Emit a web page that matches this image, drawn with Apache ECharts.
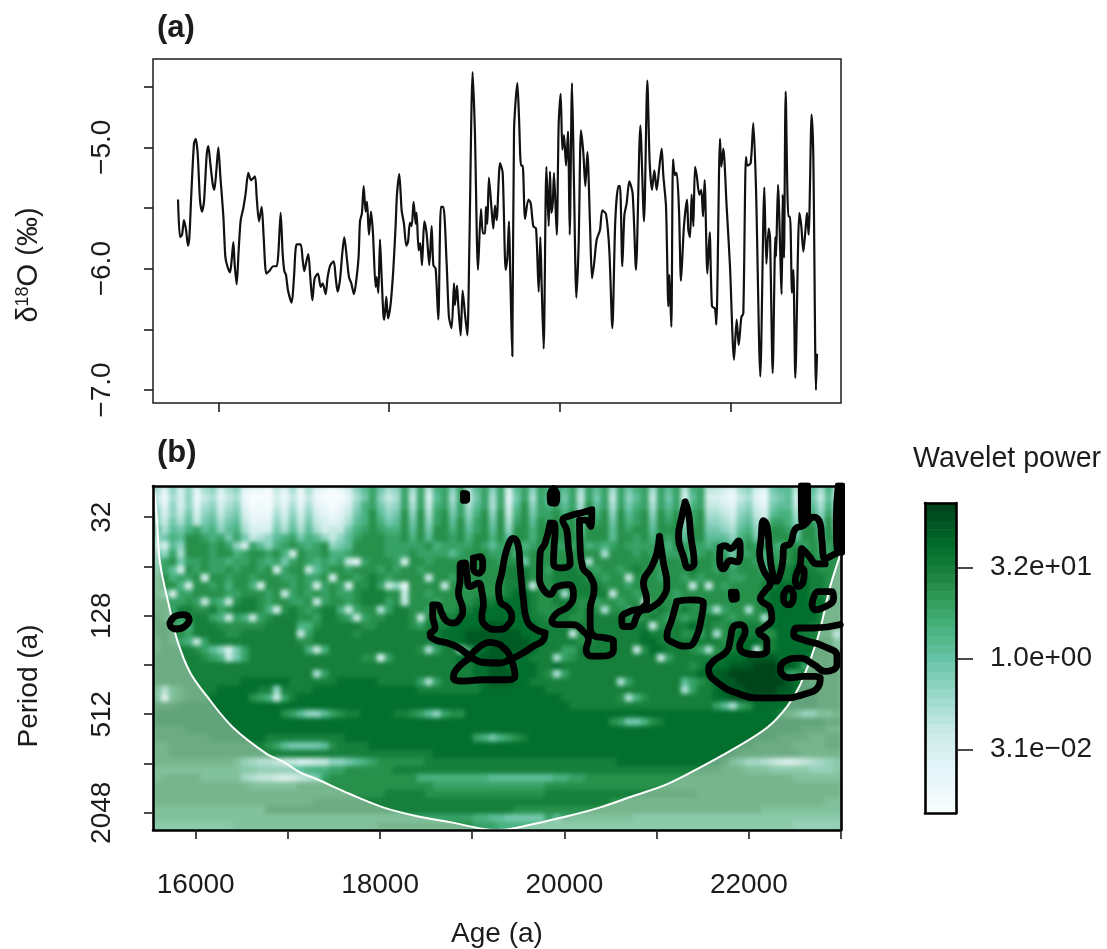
<!DOCTYPE html>
<html><head><meta charset="utf-8">
<style>html,body{margin:0;padding:0;background:#fff}#c{width:1107px;height:949px}
canvas[data-zr-dom-id="zr_1"]{filter:blur(2px);clip-path:inset(486px 266px 119px 153px);background:#4fb085 !important}</style>
<script src="https://cdn.jsdelivr.net/npm/echarts@6/dist/echarts.min.js"></script>
</head><body><div id="c"></div>
<script>
// ---------- panel (a): d18O record ----------
const ageRecord=[15528,15551,15575,15598,15622,15645,15661,15684,15715,15735,15758,15785,15809,15832,15864,15883,15906,15934,15953,15977,16000,16024,16059,16082,16106,16137,16156,16176,16191,16215,16238,16262,16293,16320,16351,16383,16429,16449,16476,16508,16531,16562,16597,16644,16683,16703,16730,16753,16773,16792,16816,16859,16886,16917,16964,16988,17007,17034,17054,17077,17101,17128,17167,17198,17222,17257,17280,17312,17351,17374,17397,17425,17452,17475,17503,17530,17557,17589,17620,17643,17659,17682,17702,17725,17741,17764,17788,17811,17842,17854,17874,17893,17909,17932,17944,17967,17987,18018,18049,18076,18092,18119,18147,18174,18201,18221,18244,18264,18287,18311,18322,18346,18365,18385,18412,18439,18471,18498,18518,18545,18576,18607,18635,18674,18701,18732,18760,18771,18795,18810,18838,18861,18888,18916,18939,18978,19005,19041,19076,19099,19123,19134,19150,19169,19201,19220,19240,19259,19299,19330,19365,19385,19404,19416,19432,19443,19463,19502,19521,19545,19564,19592,19631,19658,19689,19721,19752,19771,19787,19810,19842,19869,19884,19900,19916,19931,19963,19986,20009,20029,20048,20072,20095,20115,20142,20165,20193,20220,20247,20275,20298,20322,20353,20376,20400,20431,20470,20497,20540,20579,20614,20649,20685,20704,20731,20755,20782,20813,20852,20891,20942,20985,21024,21051,21079,21106,21133,21165,21192,21211,21243,21270,21282,21305,21325,21348,21368,21395,21418,21453,21489,21504,21524,21543,21563,21582,21602,21633,21656,21676,21695,21727,21754,21781,21816,21832,21875,21891,21914,21953,21992,22039,22070,22094,22125,22148,22179,22195,22234,22265,22297,22347,22394,22418,22445,22461,22492,22523,22531,22554,22597,22609,22624,22644,22675,22695,22718,22734,22757,22804,22827,22851,22882,22894,22913,22948,22968,22999,23011];
const d18O=[-5.43,-5.74,-5.72,-5.60,-5.68,-5.81,-5.74,-5.38,-4.97,-4.93,-5.05,-5.43,-5.53,-5.45,-5.06,-4.99,-5.13,-5.30,-5.35,-5.19,-5.00,-5.24,-5.57,-5.90,-5.98,-6.03,-5.93,-5.78,-5.96,-6.13,-5.85,-5.60,-5.50,-5.38,-5.21,-5.27,-5.24,-5.41,-5.61,-5.49,-5.74,-6.04,-6.02,-5.98,-5.98,-5.87,-5.54,-5.87,-6.02,-6.05,-6.18,-6.28,-6.07,-5.80,-5.80,-5.93,-6.02,-5.93,-5.88,-6.07,-6.26,-6.08,-6.04,-6.15,-6.12,-6.21,-6.07,-5.97,-5.94,-6.07,-6.19,-6.09,-5.87,-5.74,-5.90,-6.07,-6.12,-6.21,-6.07,-5.90,-5.61,-5.54,-5.32,-5.53,-5.45,-5.72,-5.53,-5.71,-6.15,-6.07,-6.20,-5.76,-6.01,-6.37,-6.42,-6.23,-6.41,-6.29,-6.01,-5.65,-5.39,-5.22,-5.52,-5.63,-5.81,-5.78,-5.62,-5.65,-5.45,-5.63,-5.54,-5.85,-5.79,-5.97,-5.61,-5.71,-5.97,-5.65,-5.97,-6.00,-6.42,-5.49,-5.49,-5.96,-6.40,-6.49,-6.12,-6.30,-6.14,-6.30,-6.55,-6.18,-6.37,-6.55,-5.85,-4.38,-4.88,-6.01,-5.51,-5.71,-5.71,-5.49,-5.63,-5.25,-5.52,-5.67,-5.48,-5.60,-5.13,-5.21,-6.01,-5.91,-5.61,-5.96,-6.45,-6.72,-4.86,-4.47,-4.75,-5.15,-5.15,-5.59,-5.43,-5.46,-5.65,-5.67,-6.19,-5.74,-6.15,-6.66,-5.16,-5.65,-5.20,-5.54,-5.46,-5.21,-5.72,-4.80,-4.56,-5.02,-4.90,-5.15,-4.87,-5.72,-4.47,-5.30,-6.24,-5.79,-4.86,-5.05,-5.32,-5.04,-5.64,-6.08,-5.96,-5.76,-5.68,-5.52,-5.55,-5.85,-6.49,-5.60,-5.32,-5.32,-5.98,-5.56,-5.46,-5.28,-5.38,-6.01,-4.82,-5.61,-4.45,-5.12,-5.35,-5.19,-5.35,-5.16,-5.01,-5.23,-5.49,-6.31,-6.05,-6.48,-5.10,-5.23,-5.21,-5.52,-6.10,-5.65,-5.43,-5.68,-5.74,-5.39,-5.65,-5.16,-5.23,-5.39,-5.35,-5.57,-5.27,-6.04,-5.70,-6.31,-6.33,-6.46,-4.93,-5.16,-5.01,-5.49,-5.98,-6.75,-6.42,-6.63,-6.40,-6.37,-5.08,-5.15,-5.13,-4.80,-5.35,-6.89,-5.33,-5.96,-5.67,-5.74,-6.86,-5.74,-5.90,-5.31,-6.21,-5.39,-5.91,-4.54,-5.57,-5.57,-6.20,-6.01,-6.90,-5.54,-5.65,-5.86,-5.63,-5.54,-5.72,-4.73,-5.08,-7.00,-6.70];
const d18OTicks=[-7,-6.5,-6,-5.5,-5,-4.5];
const d18OLabels=[-7,-6,-5];
const ageTicksTop=[16000,18000,20000,22000];

// ---------- panel (b): wavelet power, one hex digit per cell, row 0 = shortest period ----------
const powerLevels=[-8.5,-7.37,-6.23,-5.1,-3.97,-2.83,-1.7,-0.57,0.57,1.7,2.83,3.97,5.1,6.23,7.37,8.5];
const powerRows=[
"5263625635 6211042515 2101368A75 6A5A49A6A5 8A6A38A6A9 A8A5A8A5A7 9A5A8A49A4 4325632788 4A8594",
"4153614524 5100031414 1000257A64 5A4A38A5A4 7A5A27A5A8 A7A4A7A4A6 8A4A7A38A3 3214521678 3A7483",
"5263625635 6201042525 2101369A75 6A5A49A6A5 8A5A38B6A9 A8A5B8A5A7 9A5A8A49A4 4325632788 4A8594",
"6364736746 7311153636 3212479B86 7B6B5AB7A6 9B6B49B7AA B9B6B9B6B8 AB6B9B5AB5 5436743899 5B96A5",
"6475847857 8422264747 4323589B97 8B7B6AB8B7 AB7B5AB8BA BAB7BAB7B9 AB7BAB6AB6 6547854AA9 6BA7B6",
"85879A8968 9533375858 534479ABA9 9B8B7BB9B8 AB8B6BB9BB BBB8BBB8BA BB8BBB7BB7 7658965BBA 7BB8B7",
"6798BBA9A7 A745689A79 86468ABBBA AB9B8BBAB9 BB9B8BB9BB BBB9BBB8BB AB9BAB8BB8 8869A76BBB 8BB9BA",
"5386BBBABA 63A869ABA9 AB678BBBBA AAAAB9AAAA BA8AAA9ABB AAAB9A9ABA AAAA9BAAA9 A999BABA9B BABAAB",
"76A5BBBABB 9ABBAB93BA AB99ABBBBA AABAAAA8AB BBAAB9ABBB BBBBBB5BBB ABAAAAB8AB AA7AAB9AAB CBBAAB",
"8AB7AABAA9 AABA9A7ABA 9A9A42ABBB A3BBABBBBA BBBABB7BBB BBBB5BBBBB BBBABBABBB AB8BBA9BAB CCBBBB",
"9A83BABAAB ABBAB3ABB4 8ABBABBBAB ABBABBBBBB BBBBCCCBBA CCCBBABBAB CBBABBBCBB ABABBB8BCC DCCBBB",
"AB9AAB3BBA BBABBBAABA AB3BBABCBA BBBB4BBABB BBBBCCCBBB CCCCBBABB4 BBBABBABAB BBAABBBCCC DDCCBB",
"ABB93BBAB9 BB93BBBABA 3ABA3BBCA4 61BBBB4BBA BBBBCCC4BB CCCCCCBBBA BBBBBBB4B4 BABBBBCCDD DDCCBB",
"A93AABBBBA ABBBAB4ABA BABAABCCCB B4BBABBBBB BBBBCDDCBB C5CCCCC4BB ABBBBABBBB BBABBBCDDD DDCCBB",
"BBAABA4A94 BCCBABBAAB 4ABBABCCCA B4BBBABBBB CCCDDDDCBB CCCBBABBAB B4BBBABBAB BBBBBBCDDD DDCDBB",
"BBACCBBCAB CCCB93BCBA BCC94ABB5A CCBBABBBCC DDDDDDDCBB BCCBCB5BBA CCBCBBCBBA 5ABB5BCDDD DDDCBB",
"CBAABCCA94 A94ABCCCBB ACCBA4ABBC CCB4BBCCDD DDDDDDDCCB CCBBCCCCCB ABCBABABBC CBABBB5CDD DDDCBB",
"CCB99CCCBB BBBBCCCC99 BCCCCCBBCC CCBACCCDDD DEEEDDDDCC CCCCCCCCCC CC4BBCCDCC BBCCCCBDDD DDCCBB",
"CCBBACCCCB BCCCCCCC4A CCCCCBCCCC CCCCCCDDDE EEEEEEDDDC CC4BBCCCCC CDCCCCBBAC 5BCDCCBBDD DCCBB5",
"BCBA94ACCC CCCCCCCCBB CCCCCCCCCC CCCCCCCDDE EEEEEEEDDC CCCBBCCCCC CDDCCCCCCC CBCDDDCCDD DDCCC9",
"BCCCCBA863 7ACCCCCCC9 49CCCCCCCC CCCB5ACC5A DDEEEEEDCC CAACCCCCCC 4BDDCCCBA5 BCCDD4CCDD DDDCCA",
"CCCCCCBA94 7ACCCCCCCC CCCCCCBB3A CCCCCCCCDD DEEEDDDCCC 5ABCCCCCCC CCC4ACCCCC CDDDEEEEDD DDCCCB",
"CCCCCCCCCC CCCCCCCCCC CCCCCCCCCC CCCCCCCCCC DDEEDDDDCC DCCCCCCCCC CCCCCCCBCD DDEEEFFFEE DACCCB",
"CCCCCCCCCC CCCCCCCCCC 5ACCCCCCCC CCCCCCCCCC DDEEEDDDCB 5ACCCCCCCC CCCCCCCCDD EEFFFFFFEA ACCCCC",
"CCCCCCCCCC CDDDDDDCCC CCCDDDDDCC CCCA5ACCCC CDEEEDDCCC CCCCCCCC5A CCCCCC8ABC DEEFFFFFFE DDCCCC",
"A6ABCCCCDD DDDCC6CCCC DDDDDDDDDD DDDCCCCCCC CDDDDDDDDC CCCCCCCCCC CCCCCC5ACC DEEEFFFFEE DDDCCC",
"A3ABCCCDDD DDBA94ACDD DDDDDDDDDD DDDDDDDDDD DDDDDDDDDD DCCCCCCCB5 9BCCCCCCCC DDEEEEEEDD DDDCCC",
"CCCDDDDDDD DDDDDDDDDD DDDDDDDDDD DDDDDDDDDD DDDDDDDDDD DDCCCCCCCC CCCCCCCCCC A85ABDDDDD DDDCCC",
"DDDDDDDDDD DDDDDDBA86 68ABCCDDDD CCBA86ABBD DDDDDDDDDD DDDDDDDDDD DDDDDDDDDD DDDDDDDDCB A88AAB",
"DDDDDDDDDD DDDDDDDDDD DDDDDDDDDD DDDDDDDDDD DDDDDDDDDD DDDDDDDBA7 79BCDDDDDD DDDDDDDDDD DDDDCC",
"CCCCDDDDDD DDDDDDDDDD DDDDDDDDDD DDDDDDDDDD DDDDDDDDDD DDDDDDDDDD DDDDDDDDDD DDDDDDDDDD DCCCBB",
"CCCCCCCDDD DDDDCCCCCC CCCCDDDDDD DDDDDDDDDD A979ABCDDD DDDDDDDDDD DDDDDDDDDD DDDDDDDDCC CCBBCC",
"BBCCCCCCCC CCCCBA8777 78BCCCCDDD DDDDDDDDDD DDDDDDDDDD DDDDDDDDDD DDDDDDDDDD DDDDDCCCCC BBBBCC",
"BBCCCCCCCC CCCCCCCCCC CCCCCCCCCC CCCCCDDDDD DDDDDDDDDD DDDDDDDDDD DDDDDDDDDD DDDCCCCCCC CBBBBB",
"BBBBBBBBBB A876654433 4466789ABB BBBBCCCCCC CCCCCCCCCC CCCCCCCCDD DDDDDDDDDD DCA9776543 456789",
"AAAAAAAAAA A998888889 99AABBBBBB CCCCCCCCCC CCCCCCCCCC CCCCCCCCCC CCCCCCCCCC CBBBAAA999 998889",
"ABBBBBAAAA A765543456 7ABBBBBBBB BBB9999999 9988888888 99AABBBBBB BBBBBBBBBB BBBBBBBBBB AAAAAA",
"BBBBBBBBBB BBAAAAAABB BBBBBBBBBB BBBBBAAAAA AAAAAAAAAB BBBBBBBBBB BBBBBBBBBB BBBBBBBBBB BBBBBB",
"BBBBBBBBBB BBBBBBBBBB BBBBBBBBBC CCCCBBBBBB BBBBBBBBBC CCCCCCCCCC CCCCCCCCBB BBBBBBBBBB BBBBBB",
"BBBBBBBBBB BBBBBBBBBB CCCCCCCCCC CCCCCCCCCC CCCCCCCCCC CCCCCCCBBB BBBBBBBBBB BBBBBBBBBB BBBBAA",
"AAAAAAAAAA AAAACCCCCC CCCCCCCCCC CCCCCCCCCC CCCCCBBBBB BBBBBBBBBB BBBBBBBBBB BBBBBBAAAA AAAAAA",
"AAAAAAAAAA AAAAAAAAAA AAAAAAAAAA AAAAAAAAAA 998877777A 8AAAAAAAAA 9999999999 9999999999 999999",
"9999999999 AAAAAAAAAA AAAAAAAABB BBBBBBBBBB AAA9999999 9999999999 9999999999 9999999999 888888"
];
const ageTicksBottom=[16000,17000,18000,19000,20000,21000,22000,23000];
const ageLabelsBottom=[16000,18000,20000,22000];
const periodTicks=[5,6,7,8,9,10,11];
const periodLabels=[5,7,9,11];

// cone of influence
const coiAge=[15537,15548,15580,15613,15721,15797,15938,16123,16405,16774,16947,17132,17316,17674,18033,18402,18760,19118,19270,19411,20029,20388,20746,21115,21473,21831,22200,22417,22558,22742,22883,22992,23000];
const coiPeriod=[4.37,4.41,5.06,5.93,6.88,7.48,8.15,8.64,9.27,9.81,9.96,10.18,10.32,10.62,10.89,11.07,11.19,11.33,11.35,11.33,11.07,10.89,10.66,10.42,10.08,9.71,9.27,8.84,8.40,7.49,6.41,5.76,5.72];

// significance contours (age, log2 period)
const c1Age=[15720,15780,15870,15930,15880,15790,15730,15720], c1Per=[7.15,7.01,6.98,7.08,7.22,7.27,7.22,7.15];
const c2Age=[18905,18940,18940,18905,18905], c2Per=[4.52,4.53,4.65,4.66,4.52];
const c3Age=[19790,19664,19591,19555,19519,19501,19447,19374,19320,19284,19302,19392,19429,19392,19302,19266,19157,19103,19121,19103,19067,18976,18940,18922,18868,18868,18850,18897,18868,18796,18723,18669,18622,18571,18571,18597,18542,18597,18723,18850,18976,19121,19302,19410,19519,19664,19772,19790];
const c3Per=[7.35,7.25,7.08,6.68,6.00,5.60,5.43,5.66,6.14,6.47,6.71,6.85,7.01,7.18,7.28,7.28,7.22,7.01,6.78,6.51,6.34,6.41,6.14,5.93,5.97,6.27,6.54,6.88,7.05,7.15,7.11,6.95,6.78,6.78,7.01,7.25,7.38,7.49,7.55,7.65,7.82,7.95,7.96,7.89,7.79,7.62,7.49,7.35];
const c4Age=[19012,19084,19114,19067,19012,19012], c4Per=[5.83,5.80,6.00,6.14,6.04,5.83];
const c5Age=[18976,19067,19193,19302,19320,19392,19447,19465,19374,19121,18904,18795,18813,18976], c5Per=[7.82,7.65,7.54,7.59,7.62,7.76,8.03,8.23,8.30,8.30,8.33,8.26,8.13,7.86];
const c6Age=[19845,19790,19736,19729,19772,19845,19917,20043,20098,20043,19917,19863,19935,20080,20206,20260,20235,20297,20423,20532,20532,20441,20333,20279,20279,20322,20279,20199,20170,20163,20224,20286,20297,20188,20080,19982,20025,20043,20062,19953,19881,19888,19899,19881,19845];
const c6Per=[5.12,5.53,5.73,6.20,6.47,6.57,6.41,6.37,6.57,6.81,6.95,7.11,7.18,7.18,7.32,7.49,7.69,7.82,7.82,7.69,7.52,7.45,7.42,7.22,6.88,6.47,6.20,6.03,5.60,5.06,5.06,5.19,4.85,4.91,4.96,5.07,5.26,5.60,5.93,6.03,5.93,5.60,5.26,5.12,5.12];
const c7Age=[19881,19917,19899,19852,19845,19881], c7Per=[4.42,4.55,4.72,4.71,4.55,4.42];
const c8Age=[21031,21074,21111,21074,20930,20821,20713,20640,20622,20713,20839,20893,20857,20948,21002,21031], c8Per=[5.39,5.93,6.34,6.61,6.85,6.91,7.22,7.22,7.05,6.91,6.85,6.68,6.34,6.00,5.73,5.39];
const c9Age=[21309,21273,21237,21291,21346,21407,21371,21346,21309], c9Per=[4.69,4.99,5.39,5.80,6.03,5.93,5.39,4.92,4.69];
const c10Age=[21219,21364,21508,21490,21418,21328,21183,21111,21165,21219], c10Per=[6.71,6.68,6.74,7.01,7.49,7.62,7.55,7.42,7.08,6.71];
const c11Age=[21690,21744,21799,21889,21907,21871,21799,21726,21683,21690], c11Per=[5.61,5.58,5.64,5.48,5.68,5.91,5.88,6.05,5.85,5.61];
const c12Age=[21810,21860,21865,21815,21810], c12Per=[6.52,6.52,6.65,6.67,6.52];
const c13Age=[22985,22902,22829,22793,22775,22703,22594,22504,22450,22377,22370,22341,22298,22251,22225,22196,22160,22131,22117,22160,22233,22178,22124,22142,22233,22251,22160,22106,22196,22196,22088,21961,21900,21961,21907,21835,21799,21762,21618,21563,21690,21871,22088,22341,22594,22757,22775,22594,22450,22341,22395,22558,22703,22829,22956,22956,22811,22594,22486,22522,22703,22992];
const c13Per=[5.70,5.78,5.85,5.48,5.14,5.00,5.17,5.24,5.54,5.61,5.85,6.15,6.30,6.08,5.68,5.17,5.07,5.48,5.75,6.08,6.35,6.49,6.66,6.71,6.85,7.05,7.25,7.32,7.52,7.69,7.79,7.76,7.62,7.32,7.18,7.22,7.49,7.72,7.92,8.09,8.40,8.57,8.67,8.67,8.60,8.43,8.26,8.23,8.26,8.09,7.92,7.86,7.99,8.13,7.99,7.82,7.62,7.49,7.38,7.25,7.25,7.18];
const c14Age=[22829,22739,22649,22576,22558,22504,22540,22594,22601,22558], c14Per=[5.95,5.95,5.78,5.64,5.95,6.28,6.41,6.28,6.10,6.01];
const c15Age=[22377,22432,22486,22432,22377,22377], c15Per=[6.57,6.44,6.61,6.78,6.68,6.57];
const c16Age=[22685,22757,22902,22920,22793,22721,22685], c16Per=[6.78,6.51,6.51,6.64,6.85,6.88,6.78];
const c17Age=[22569,22638,22638,22576,22569], c17Per=[4.36,4.36,5.04,5.10,4.36];
const c18Age=[22970,22949,22974,23010,23010,22970], c18Per=[4.36,5.00,5.71,5.71,4.36,4.36];
const contourLoops=[[c1Age,c1Per],[c2Age,c2Per],[c3Age,c3Per],[c4Age,c4Per],[c5Age,c5Per],[c6Age,c6Per],[c7Age,c7Per],[c8Age,c8Per],[c9Age,c9Per],[c10Age,c10Per],[c11Age,c11Per],[c12Age,c12Per],[c13Age,c13Per],[c14Age,c14Per],[c15Age,c15Per],[c16Age,c16Per],[c17Age,c17Per],[c18Age,c18Per]];

// colour key
const keyLevels=[-8.5,-8,-7.5,-7,-6.5,-6,-5.5,-5,-4.5,-4,-3.5,-3,-2.5,-2,-1.5,-1,-0.5,0,0.5,1,1.5,2,2.5,3,3.5,4,4.5,5,5.5,6,6.5,7,7.5,8,8.5];
const keyTicks=[-5,0,5];
const keyLabels=['3.1e\u221202','1.0e+00','3.2e+01'];
const palette=['#f7fcfd','#e5f5f9','#ccece6','#99d8c9','#66c2a4','#41ae76','#238b45','#006d2c','#00441b'];

// ---------- assembly ----------
const ink='#1c1c1c', FONT='"Liberation Sans",Arial,sans-serif', FS=28;
const rows=powerRows.map(r=>r.replace(/ /g,''));
const heat=[];
rows.forEach((r,j)=>{for(let i=0;i<r.length;i++)heat.push([i,j,powerLevels[parseInt(r[i],16)]]);});
const nCols=rows[0].length;
const colCats=Array.from({length:nCols},(_,i)=>String(i));
const rowCats=rows.map((_,j)=>String(j));
const zip=(a,b)=>a.map((v,i)=>[v,b[i]]);

const tickLine={lineStyle:{color:ink,width:1.6},length:9};
const hiddenBits={axisTick:{show:false},axisLabel:{show:false},splitLine:{show:false}};
const heavy={show:true,onZero:false,lineStyle:{color:'#000',width:2.6}};

const contourSeries=contourLoops.map(([a,p],i)=>({
  name:'contour'+(i+1),type:'line',xAxisIndex:1,yAxisIndex:1,data:zip(a,p),showSymbol:false,symbol:'none',
  smooth:0.5,zlevel:2,z:4,silent:true,lineStyle:{color:'#000',width:6.8,cap:'round',join:'round'}
}));

const option={
  animation:false,backgroundColor:'#fff',
  textStyle:{fontFamily:FONT,color:ink},
  title:[
    {text:'(a)',left:152,top:8,textStyle:{fontFamily:FONT,fontSize:31,fontWeight:'bold',color:ink}},
    {text:'(b)',left:152,top:433,textStyle:{fontFamily:FONT,fontSize:31,fontWeight:'bold',color:ink}},
    {text:'Wavelet power',left:908,top:440,textStyle:{fontFamily:FONT,fontSize:28.6,fontWeight:'normal',color:ink}}
  ],
  grid:[
    {left:153,top:59,width:688,height:344,show:true,borderColor:ink,borderWidth:1.5,backgroundColor:'#fff'},
    {left:153,top:486,width:688,height:344},
    {left:925,top:503,width:31,height:310}
  ],
  visualMap:{type:'continuous',show:false,min:-8.5,max:8.5,dimension:2,seriesIndex:[1,2],inRange:{color:palette}},
  xAxis:[
    {type:'value',gridIndex:0,min:15235,max:23292,position:'bottom',splitLine:{show:false},axisLine:{show:false},
      axisTick:{show:true,customValues:ageTicksTop,...tickLine},axisLabel:{show:false}},
    {type:'value',gridIndex:1,min:15537,max:23000,position:'bottom',zlevel:3,z:8,splitLine:{show:false},axisLine:heavy,
      axisTick:{show:true,customValues:ageTicksBottom,...tickLine},
      axisLabel:{show:true,customValues:ageLabelsBottom,formatter:v=>String(v),fontSize:FS,color:ink,fontFamily:FONT,margin:41},
      name:'Age (a)',nameLocation:'middle',nameGap:90,nameTextStyle:{fontSize:FS,color:ink,fontFamily:FONT}},
    {type:'category',gridIndex:1,data:colCats,position:'top',zlevel:3,z:8,boundaryGap:true,axisLine:heavy,...hiddenBits},
    {type:'category',gridIndex:2,data:['key'],position:'bottom',z:8,axisLine:heavy,...hiddenBits},
    {type:'value',gridIndex:2,min:0,max:1,position:'top',z:8,axisLine:heavy,...hiddenBits}
  ],
  yAxis:[
    {type:'value',gridIndex:0,min:-7.107,max:-4.272,position:'left',splitLine:{show:false},axisLine:{show:false},
      axisTick:{show:true,customValues:d18OTicks,...tickLine},
      axisLabel:{show:true,customValues:d18OLabels,rotate:90,margin:37,fontSize:FS,color:ink,fontFamily:FONT,
        formatter:v=>'\u2212'+Math.abs(v).toFixed(1)},
      name:'{m|\u03b4}{s|18}{m|O (\u2030)}',nameLocation:'middle',nameGap:110,nameRotate:90,
      nameTextStyle:{padding:[0,68,0,0],rich:{m:{fontSize:29,color:ink,fontFamily:FONT},s:{fontSize:18,color:ink,fontFamily:FONT,verticalAlign:'top',lineHeight:26}}}},
    {type:'value',gridIndex:1,min:4.368,max:11.35,inverse:true,position:'left',zlevel:3,z:8,splitLine:{show:false},axisLine:heavy,
      axisTick:{show:true,customValues:periodTicks,...tickLine},
      axisLabel:{show:true,customValues:periodLabels,rotate:90,margin:37,fontSize:FS,color:ink,fontFamily:FONT,
        formatter:v=>String(Math.pow(2,v))},
      name:'Period (a)',nameLocation:'middle',nameGap:110,nameRotate:90,
      nameTextStyle:{padding:[0,56,0,0],fontSize:FS,color:ink,fontFamily:FONT}},
    {type:'category',gridIndex:1,data:rowCats,inverse:true,position:'right',zlevel:3,z:8,boundaryGap:true,axisLine:heavy,...hiddenBits},
    {type:'category',gridIndex:2,data:keyLevels.map(String),position:'left',z:8,axisLine:heavy,...hiddenBits},
    {type:'value',gridIndex:2,min:-8.5,max:8.53,position:'right',z:8,splitLine:{show:false},axisLine:heavy,
      axisTick:{show:true,customValues:keyTicks,lineStyle:{color:ink,width:1.6},length:17},
      axisLabel:{show:true,customValues:keyTicks,margin:34,fontSize:FS,color:ink,fontFamily:FONT,
        formatter:v=>keyLabels[keyTicks.indexOf(v)]}}
  ],
  series:[
    {name:'d18O',type:'line',xAxisIndex:0,yAxisIndex:0,data:zip(ageRecord,d18O),showSymbol:false,symbol:'none',smooth:0.25,
      lineStyle:{color:'#111',width:2.2,join:'round'},silent:true},
    {name:'Wavelet power',type:'heatmap',xAxisIndex:2,yAxisIndex:2,data:heat,progressive:0,silent:true,zlevel:1,z:1},
    {name:'key',type:'heatmap',xAxisIndex:3,yAxisIndex:3,data:keyLevels.map((v,i)=>[0,i,v]),progressive:0,silent:true,z:1},
    {name:'COI',type:'line',xAxisIndex:1,yAxisIndex:1,data:zip(coiAge,coiPeriod),showSymbol:false,symbol:'none',smooth:0.35,
      zlevel:2,z:3,silent:true,lineStyle:{color:'#fff',width:2},areaStyle:{origin:'end',color:'rgba(232,236,232,0.6)'}},
    ...contourSeries
  ]
};
const chart=echarts.init(document.getElementById('c'),null,{renderer:'canvas',width:1107,height:949});
chart.setOption(option);
</script></body></html>
